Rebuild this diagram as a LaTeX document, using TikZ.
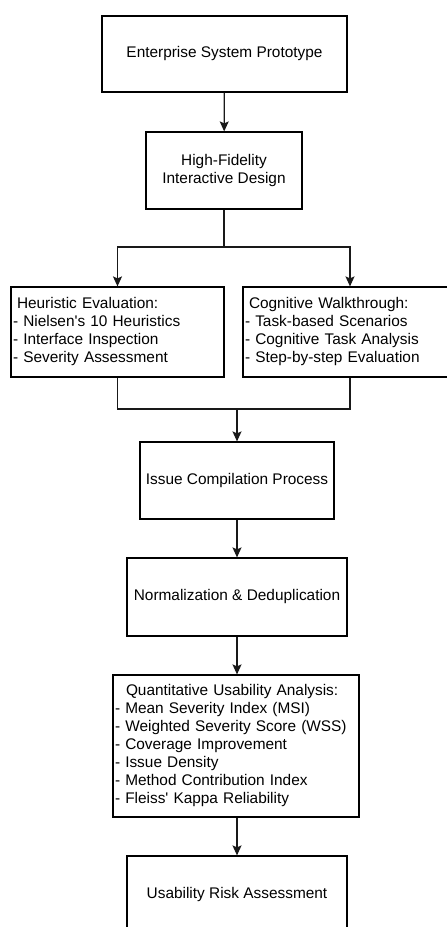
\documentclass[tikz,border=0pt]{standalone}
\usepackage{fontspec}
\setmainfont{Liberation Sans}
\usetikzlibrary{arrows.meta}

\begin{document}
\begin{tikzpicture}[x=1pt,y=-1pt,>={Stealth[length=10pt,width=9pt,inset=2pt]},
  box/.style={draw=black,line width=1.2pt,inner sep=2pt,font=\fontsize{15.4}{18}\selectfont,align=center},
  listbox/.style={box,align=left},
  link/.style={line width=1.2pt,draw=black!90}]

\useasboundingbox (0,0) rectangle (447,927);
\clip (0,0) rectangle (447,927);

%top of the flow
\node[box,minimum width=245pt,minimum height=76pt] (proto) at (224.5,54) {Enterprise System Prototype};
\node[box,minimum width=156pt,minimum height=77pt] (hifi) at (224,170.5) {High-Fidelity\\Interactive Design};

%the two inspection methods
\node[listbox,text width=209pt,minimum height=90pt] (heur) at (117.5,332)
  {\hspace*{4pt}Heuristic Evaluation:\\- Nielsen\textquotesingle s 10 Heuristics\\- Interface Inspection\\- Severity Assessment};
\node[listbox,text width=210pt,minimum height=90pt] (cogw) at (350,332)
  {\hspace*{4pt}Cognitive Walkthrough:\\- Task-based Scenarios\\- Cognitive Task Analysis\\- Step-by-step Evaluation};

%compilation and analysis
\node[box,minimum width=194pt,minimum height=77pt] (issue) at (237,480.5) {Issue Compilation Process};
\node[box,minimum width=220pt,minimum height=78pt] (norm) at (237,597) {Normalization \& Deduplication};
\node[listbox,text width=242pt,minimum height=142pt] (quant) at (236,746)
  {\hspace*{11pt}Quantitative Usability Analysis:\\- Mean Severity Index (MSI)\\- Weighted Severity Score (WSS)\\- Coverage Improvement\\- Issue Density\\- Method Contribution Index\\- Fleiss\textquotesingle\ Kappa Reliability};
\node[box,minimum width=220pt,minimum height=78pt] (risk) at (237,895) {Usability Risk Assessment};

%split and merge points
\coordinate (split) at (224,247);
\coordinate (merge) at (237,409);

%connectors
\draw[link,->] (proto) -- (hifi);
\draw[link] (hifi) -- (split);
\draw[link,->] (split) -| (heur.north);
\draw[link,->] (split) -| (cogw.north);
\draw[link] (heur.south) |- (merge);
\draw[link] (cogw.south) |- (merge);
\draw[link,->] (merge) -- (issue.north);
\draw[link,->] (issue) -- (norm);
\draw[link,->] (norm.south) -- (norm.south |- quant.north);
\draw[link,->] (quant.south -| risk.north) -- (risk.north);

\end{tikzpicture}
\end{document}
